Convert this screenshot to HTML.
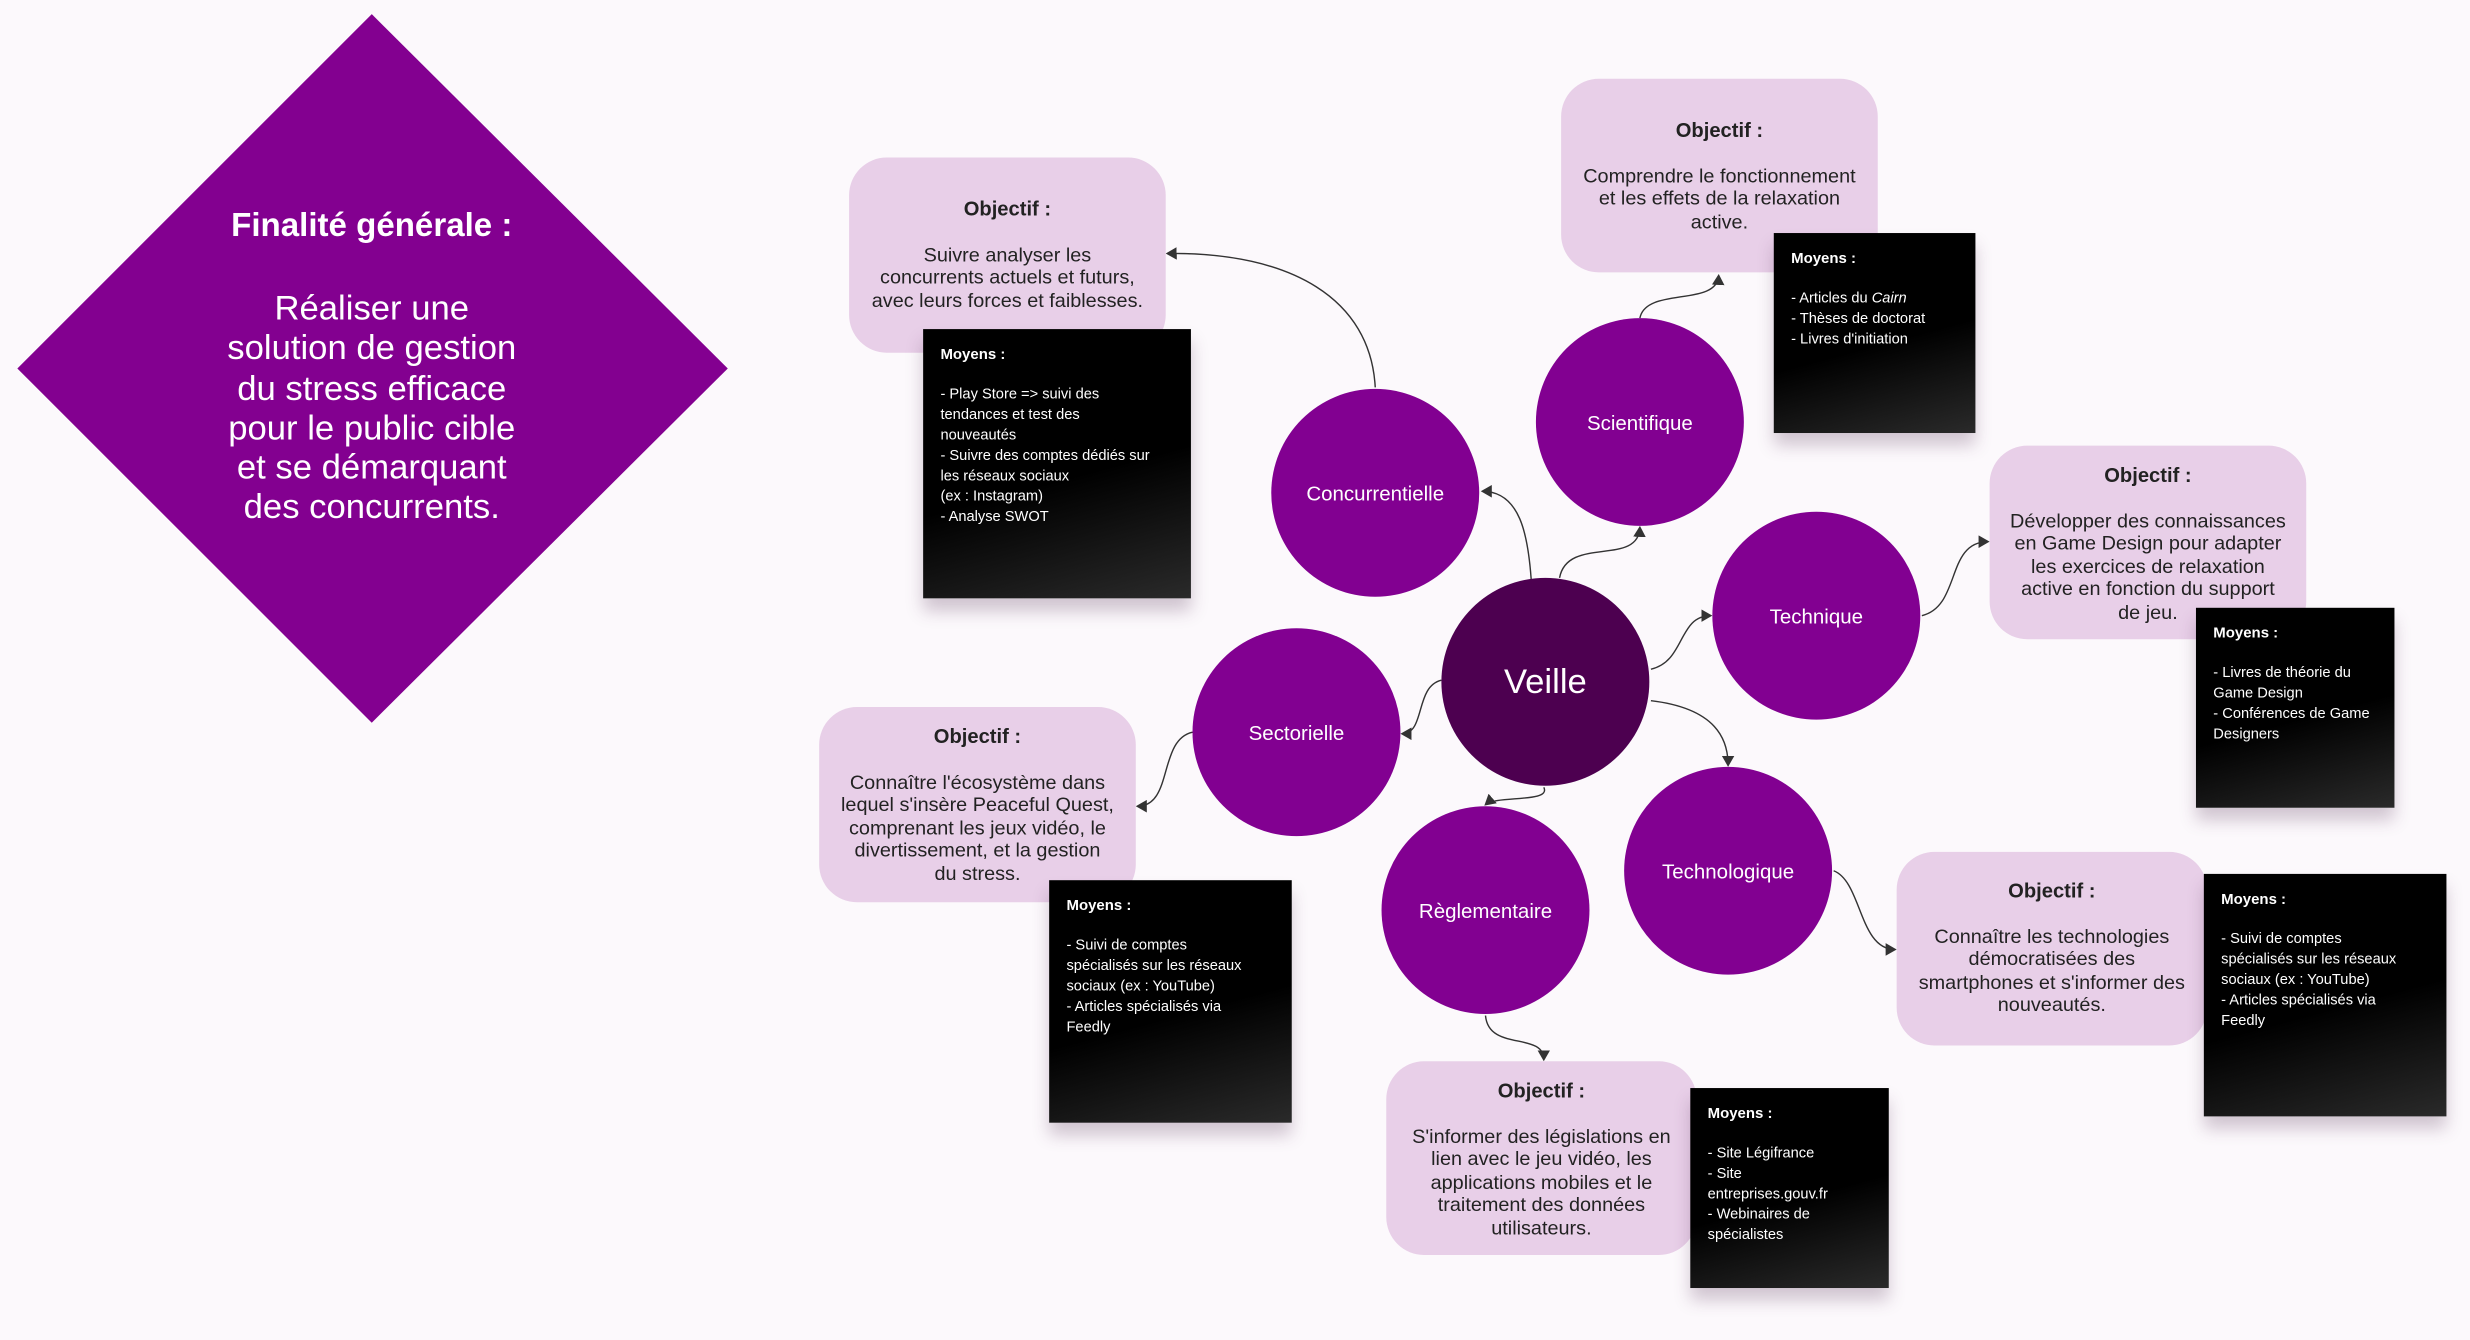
<!DOCTYPE html>
<html><head><meta charset="utf-8"><style>
html,body{margin:0;padding:0;background:#fcf9fc;overflow:hidden}
#w{position:absolute;left:0;top:0;width:1568px;height:851px;transform:scale(1.5753,1.5746);transform-origin:0 0;font-family:"Liberation Sans",sans-serif}
.c{position:absolute;width:132px;height:132px;border-radius:50%;background:#820091;color:#fff;display:flex;align-items:center;justify-content:center;font-size:13px}
.o{position:absolute;background:#e8cfe8;border-radius:24px;color:#222;text-align:center;font-size:12.6px;line-height:14.5px;box-sizing:border-box;padding-top:26px}
.o b{display:block;margin-bottom:14px;font-size:12.8px}
.m{position:absolute;background:linear-gradient(165deg,#000 55%,#2a2a2a 100%);color:#fff;font-size:9.3px;line-height:13px;box-sizing:border-box;padding:10px 11px;box-shadow:0 8px 10px rgba(80,40,80,.25)}
.m b{display:block;margin-bottom:12px;font-size:9.5px}
</style></head><body><div id="w">
<svg width="1568" height="851" style="position:absolute;left:0;top:0">
<defs><marker id="a" markerWidth="8" markerHeight="8" refX="6" refY="4" orient="auto" markerUnits="userSpaceOnUse"><path d="M0,0 L7,4 L0,8 Z" fill="#333"/></marker></defs>
<polygon points="236,9 462,234 236,459 11,234" fill="#830090"/>
<g fill="none" stroke="#333" stroke-width="0.9" marker-end="url(#a)">
<path d="M873,246 C870,190 820,160 741,161"/>
<path d="M972,368 C970,340 965,312 941,312"/>
<path d="M990,367 C995,340 1040,360 1041,335"/>
<path d="M1041,202 C1045,182 1090,195 1091,175"/>
<path d="M1048,425 C1070,420 1065,391 1086,391"/>
<path d="M1220,391 C1245,385 1235,344 1262,344"/>
<path d="M915,432 C898,436 905,466 890,466"/>
<path d="M757,465 C735,470 745,512 722,512"/>
<path d="M980,500 C985,510 950,505 943,511"/>
<path d="M1048,445 C1090,450 1097,470 1097,486"/>
<path d="M1164,553 C1182,560 1180,603 1203,603"/>
<path d="M943,645 C945,668 980,655 980,673"/>
</g>
</svg>
<div style="position:absolute;left:100px;top:132px;width:272px;text-align:center;color:#fff;font-size:21px;font-weight:bold">Finalité générale :</div>
<div style="position:absolute;left:100px;top:183px;width:272px;text-align:center;color:#fff;font-size:22px;line-height:25.3px">Réaliser une<br>solution de gestion<br>du stress efficace<br>pour le public cible<br>et se démarquant<br>des concurrents.</div>

<div class="o" style="left:539px;top:100px;width:201px;height:124px">
<b>Objectif :</b>Suivre analyser les<br>concurrents actuels et futurs,<br>avec leurs forces et faiblesses.</div>
<div class="o" style="left:991px;top:50px;width:201px;height:123px">
<b>Objectif :</b>Comprendre le fonctionnement<br>et les effets de la relaxation<br>active.</div>
<div class="o" style="left:1263px;top:283px;width:201px;height:123px;padding-top:12px">
<b>Objectif :</b>Développer des connaissances<br>en Game Design pour adapter<br>les exercices de relaxation<br>active en fonction du support<br>de jeu.</div>
<div class="o" style="left:520px;top:449px;width:201px;height:124px;padding-top:12px">
<b>Objectif :</b>Connaître l'écosystème dans<br>lequel s'insère Peaceful Quest,<br>comprenant les jeux vidéo, le<br>divertissement, et la gestion<br>du stress.</div>
<div class="o" style="left:1204px;top:541px;width:197px;height:123px;padding-top:18px">
<b>Objectif :</b>Connaître les technologies<br>démocratisées des<br>smartphones et s'informer des<br>nouveautés.</div>
<div class="o" style="left:880px;top:674px;width:197px;height:123px;padding-top:12px">
<b>Objectif :</b>S'informer des législations en<br>lien avec le jeu vidéo, les<br>applications mobiles et le<br>traitement des données<br>utilisateurs.</div>

<div class="c" style="left:915px;top:367px;background:#4d0050;font-size:22px">Veille</div>
<div class="c" style="left:807px;top:247px">Concurrentielle</div>
<div class="c" style="left:975px;top:202px">Scientifique</div>
<div class="c" style="left:1087px;top:325px">Technique</div>
<div class="c" style="left:757px;top:399px">Sectorielle</div>
<div class="c" style="left:877px;top:512px">Règlementaire</div>
<div class="c" style="left:1031px;top:487px">Technologique</div>

<div class="m" style="left:586px;top:209px;width:170px;height:171px"><b>Moyens :</b>- Play Store =&gt; suivi des<br>tendances et test des<br>nouveautés<br>- Suivre des comptes dédiés sur<br>les réseaux sociaux<br>(ex : Instagram)<br>- Analyse SWOT</div>
<div class="m" style="left:1126px;top:148px;width:128px;height:127px"><b>Moyens :</b>- Articles du <i>Cairn</i><br>- Thèses de doctorat<br>- Livres d'initiation</div>
<div class="m" style="left:1394px;top:386px;width:126px;height:127px"><b>Moyens :</b>- Livres de théorie du<br>Game Design<br>- Conférences de Game<br>Designers</div>
<div class="m" style="left:666px;top:559px;width:154px;height:154px"><b>Moyens :</b>- Suivi de comptes<br>spécialisés sur les réseaux<br>sociaux (ex : YouTube)<br>- Articles spécialisés via<br>Feedly</div>
<div class="m" style="left:1399px;top:555px;width:154px;height:154px"><b>Moyens :</b>- Suivi de comptes<br>spécialisés sur les réseaux<br>sociaux (ex : YouTube)<br>- Articles spécialisés via<br>Feedly</div>
<div class="m" style="left:1073px;top:691px;width:126px;height:127px"><b>Moyens :</b>- Site Légifrance<br>- Site<br>entreprises.gouv.fr<br>- Webinaires de<br>spécialistes</div>
</div></body></html>
